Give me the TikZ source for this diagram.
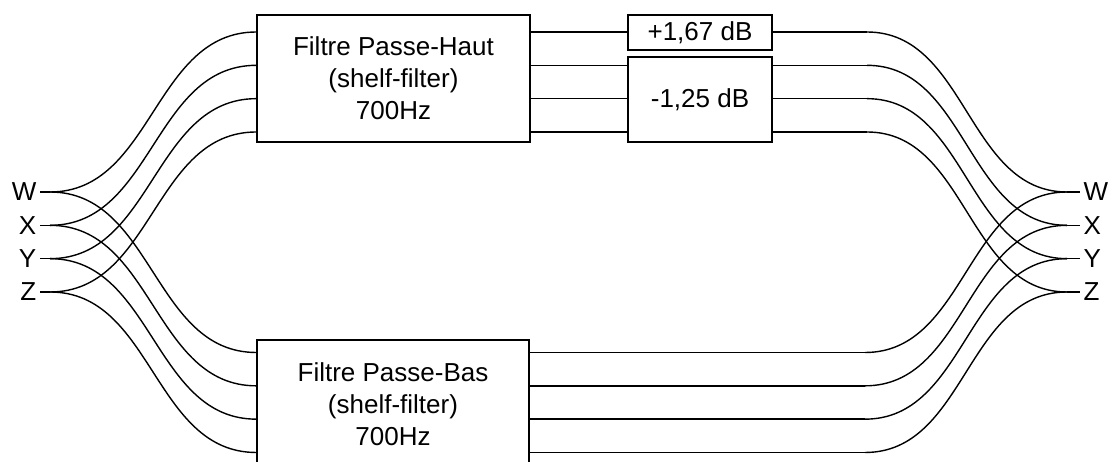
\documentclass[tikz,border=0pt]{standalone}
\usepackage{fontspec}
\setmainfont{Liberation Sans}
\begin{document}
\begin{tikzpicture}[x=1pt,y=-1pt,line width=1.4pt,
  box/.style={draw,line width=1.4pt,inner sep=0pt,align=center,font=\fontsize{26}{32}\selectfont},
  lab/.style={inner sep=0pt,font=\fontsize{26}{32}\selectfont},
  wire/.style={line width=1.4pt}]
\useasboundingbox (0,0) rectangle (1112,462);
\clip (0,0) rectangle (1112,462);
\node[box,minimum width=273pt,minimum height=127pt] (hp) at (393.5,78.5) {Filtre Passe-Haut\\(shelf-filter)\\700Hz};
\node[box,minimum width=272pt,minimum height=128pt] (lp) at (393,404) {Filtre Passe-Bas\\(shelf-filter)\\700Hz};
\node[box,minimum width=144pt,minimum height=35pt] (g1) at (700,32.5) {+1,67 dB};
\node[box,minimum width=144pt,minimum height=85pt] (g2) at (700,99.5) {-1,25 dB};
\foreach \n [count=\i] in {W,X,Y,Z} {
  \pgfmathsetmacro\yy{192+(\i-1)*33.33}
  \pgfmathsetmacro\ty{32+(\i-1)*33.33}
  \pgfmathsetmacro\by{352.5+(\i-1)*33.33}
  \node[lab,anchor=east] (L\n) at (37,\yy) {\n};
  \node[lab,anchor=west] (R\n) at (1083,\yy) {\n};
  \coordinate (la\i) at (50,\yy);
  \coordinate (ra\i) at (1067,\yy);
  \coordinate (t\i) at (0,\ty);
  \coordinate (b\i) at (0,\by);
  \coordinate (tr\i) at (867,\ty);
  \coordinate (br\i) at (865,\by);
}
\foreach \n [count=\i] in {W,X,Y,Z} {
  \draw[wire] ([xshift=3pt]L\n.east) -- (la\i);
  \draw[wire] (la\i) .. controls +(103,0) and +(-103,0) .. (hp.west |- t\i);
  \draw[wire] (la\i) .. controls +(103,0) and +(-103,0) .. (lp.west |- b\i);
  \draw[wire] (tr\i) .. controls +(100,0) and +(-100,0) .. (ra\i);
  \draw[wire] (br\i) .. controls +(101,0) and +(-101,0) .. (ra\i);
  \draw[wire] (ra\i) -- ([xshift=-3pt]R\n.west);
  \draw[wire] (lp.east |- b\i) -- (br\i);
}
\draw[wire] (hp.east |- t1) -- (g1.west |- t1);
\draw[wire] (g1.east |- t1) -- (tr1);
\foreach \i in {2,3,4} {
  \draw[wire] (hp.east |- t\i) -- (g2.west |- t\i);
  \draw[wire] (g2.east |- t\i) -- (tr\i);
}
\end{tikzpicture}
\end{document}
